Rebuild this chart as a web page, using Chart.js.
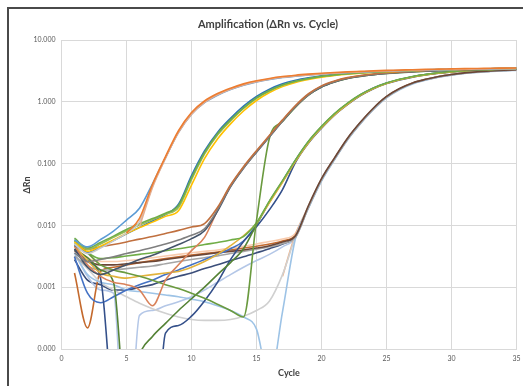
<!DOCTYPE html>
<html>
<head>
<meta charset="utf-8">
<script src="https://cdn.jsdelivr.net/npm/chart.js@4/dist/chart.umd.min.js"></script>
<style>
  html, body { margin: 0; padding: 0; background: #fff; }
  canvas { display: block; }
</style>
</head>
<body>
<canvas id="amp" width="523" height="386"></canvas>
<script>
// Amplification plot: delta Rn per PCR cycle, one line per well.
const cycles = [1,2,3,4,5,6,7,8,9,10,11,12,13,14,15,16,17,18,19,20,21,22,23,24,25,26,27,28,29,30,31,32,33,34,35];

const yTickValues = [0.0001, 0.001, 0.01, 0.1, 1, 10];
const yTickLabels = ['0.000', '0.001', '0.010', '0.100', '1.000', '10.000'];
const xTickValues = [0, 5, 10, 15, 20, 25, 30, 35];

// Wells, earliest rising first
const wellA1 = [null,null,null,null,0.0075,0.013,0.046,0.13,0.34,0.67,1.03,1.36,1.66,1.95,2.19,2.39,2.56,2.69,2.8,2.9,2.98,3.05,3.11,3.17,3.22,3.26,3.31,3.35,3.38,3.41,3.44,3.46,3.49,3.51,3.53];
const wellA2 = [null,null,null,null,null,0.0095,0.041,0.122,0.32,0.63,0.98,1.3,1.6,1.88,2.12,2.32,2.49,2.61,2.73,2.83,2.91,2.98,3.04,3.1,3.15,3.19,3.24,3.28,3.31,3.34,3.37,3.39,3.42,3.44,3.46];
const wellA3 = [0.0058,0.0045,0.0059,0.0081,0.0122,0.019,0.047,0.125,0.32,0.63,0.97,1.28,1.58,1.86,2.1,2.3,2.47,2.6,2.72,2.82,2.9,2.97,3.03,3.09,3.14,3.18,3.23,3.27,3.3,3.33,3.36,3.38,3.41,3.43,3.45];
const wellA4 = [0.005,0.0035,0.0043,0.0056,0.0075,0.0115,0.043,0.124,0.33,0.65,1.0,1.32,1.62,1.9,2.14,2.34,2.51,2.63,2.75,2.85,2.93,3.0,3.06,3.12,3.17,3.21,3.26,3.3,3.33,3.36,3.39,3.41,3.44,3.46,3.48];

const wellB1 = [0.0062,0.0043,0.0053,0.0067,0.0086,0.0106,0.0129,0.0157,0.021,0.059,0.15,0.305,0.51,0.8,1.16,1.52,1.87,2.15,2.38,2.58,2.73,2.86,2.96,3.04,3.11,3.17,3.22,3.27,3.31,3.34,3.38,3.41,3.43,3.45,3.48];
const wellB2 = [0.0059,0.0041,0.005,0.0064,0.0081,0.0101,0.0124,0.0151,0.0195,0.055,0.142,0.29,0.49,0.78,1.14,1.5,1.85,2.13,2.36,2.56,2.71,2.84,2.94,3.02,3.09,3.15,3.2,3.25,3.29,3.32,3.36,3.39,3.41,3.43,3.46];
const wellB3 = [0.0054,0.0038,0.0046,0.0058,0.0074,0.0092,0.0113,0.014,0.0172,0.045,0.12,0.25,0.44,0.71,1.05,1.41,1.76,2.05,2.29,2.5,2.66,2.8,2.91,3.0,3.07,3.13,3.19,3.24,3.28,3.31,3.35,3.38,3.4,3.42,3.45];
const wellB4 = [0.0048,0.0036,0.0045,0.0057,0.0073,0.0093,0.0118,0.015,0.022,0.064,0.16,0.32,0.54,0.85,1.22,1.6,1.95,2.23,2.45,2.64,2.78,2.9,2.99,3.06,3.13,3.18,3.23,3.28,3.32,3.35,3.38,3.41,3.43,3.45,3.48];

const wellC1 = [0.0047,0.0041,0.0045,0.0049,0.0054,0.006,0.0066,0.0074,0.0083,0.0094,0.0107,0.0195,0.045,0.089,0.162,0.287,0.51,0.87,1.35,1.81,2.17,2.46,2.66,2.82,2.95,3.05,3.13,3.21,3.27,3.32,3.36,3.4,3.43,3.47,3.5];
const wellC2 = [0.0036,0.0026,0.0028,0.0031,0.0035,0.0039,0.0044,0.005,0.0058,0.0069,0.0088,0.018,0.043,0.085,0.155,0.275,0.49,0.84,1.3,1.76,2.12,2.41,2.61,2.77,2.9,3.0,3.08,3.16,3.22,3.27,3.31,3.35,3.38,3.42,3.45];
const wellC3 = [0.0042,0.0021,0.0016,0.0019,0.0023,0.0028,0.0033,0.004,0.0049,0.0061,0.0082,0.017,0.042,0.084,0.153,0.272,0.485,0.83,1.29,1.74,2.1,2.39,2.59,2.75,2.88,2.98,3.06,3.14,3.2,3.25,3.29,3.33,3.36,3.4,3.43];
const wellC4 = [0.0046,0.0023,0.0015,0.0012,0.0011,0.0009,0.0005,0.0013,0.0023,0.0039,0.0064,0.0175,0.0435,0.087,0.158,0.28,0.5,0.85,1.32,1.78,2.14,2.43,2.63,2.79,2.92,3.02,3.1,3.18,3.24,3.29,3.33,3.37,3.4,3.44,3.47];
const wellC5 = [0.0056,0.0036,0.0023,0.0019,0.0017,0.0015,0.0013,0.0011,0.00095,0.0008,0.00066,0.00053,0.00042,0.00033,0.012,0.26,0.48,0.82,1.28,1.73,2.09,2.38,2.58,2.74,2.87,2.97,3.05,3.13,3.19,3.24,3.28,3.32,3.35,3.39,3.42];

const wellD1 = [0.0051,0.0036,0.0029,0.003,0.0032,0.0034,0.0036,0.0039,0.0042,0.0045,0.0049,0.0053,0.0058,0.0066,0.011,0.025,0.053,0.115,0.23,0.4,0.645,0.95,1.31,1.68,2.02,2.31,2.56,2.77,2.95,3.09,3.2,3.29,3.35,3.41,3.46];
const wellD2 = [0.0047,0.0027,0.0017,0.0015,0.0014,0.0015,0.0016,0.0017,0.0018,0.0021,0.0026,0.0034,0.0047,0.0068,0.0108,0.0235,0.05,0.109,0.218,0.38,0.615,0.91,1.27,1.64,1.98,2.27,2.52,2.73,2.91,3.05,3.16,3.25,3.31,3.37,3.42];
const wellD3 = [0.0041,0.003,0.0019,0.0012,0.00001,0.00008,0.00016,0.00026,0.00042,0.00065,0.001,0.0016,0.0025,0.0042,0.0103,0.024,0.051,0.112,0.224,0.39,0.63,0.93,1.29,1.66,2.0,2.29,2.54,2.75,2.93,3.07,3.18,3.27,3.33,3.39,3.44];
const wellD4 = [0.0041,0.0026,0.0014,0.000007,0.000001,0.000001,0.000001,0.00018,0.00024,0.00034,0.0006,0.0012,0.0028,0.0055,0.0095,0.018,0.038,0.105,0.215,0.375,0.61,0.9,1.26,1.63,1.97,2.26,2.51,2.72,2.9,3.04,3.15,3.24,3.3,3.36,3.41];
const wellD5 = [0.0031,0.0008,0.00056,0.0007,0.0009,0.0011,0.0013,0.0016,0.0019,0.0023,0.0028,0.0034,0.0042,0.0056,0.0104,0.0245,0.052,0.114,0.228,0.395,0.635,0.935,1.3,1.67,2.01,2.3,2.55,2.76,2.94,3.08,3.19,3.28,3.34,3.4,3.45];

const wellE1 = [0.0039,0.0027,0.0023,0.0023,0.0024,0.0025,0.0026,0.0028,0.003,0.0032,0.0034,0.0036,0.0038,0.004,0.0043,0.0047,0.0054,0.0068,0.021,0.057,0.124,0.258,0.47,0.795,1.22,1.64,2.02,2.31,2.56,2.77,2.94,3.06,3.16,3.24,3.3];
const wellE2 = [0.0032,0.0022,0.0019,0.0019,0.002,0.0021,0.0022,0.0024,0.0026,0.0028,0.003,0.0032,0.0035,0.0038,0.0041,0.0045,0.0051,0.0064,0.0195,0.054,0.118,0.246,0.45,0.765,1.18,1.6,1.98,2.27,2.52,2.73,2.9,3.02,3.12,3.2,3.26];
const wellE3 = [0.0036,0.0016,0.0012,0.0011,0.0009,0.00085,0.0008,0.00075,0.0007,0.00064,0.00058,0.0005,0.00042,0.00033,0.00021,0.00003,0.0004,0.0062,0.019,0.052,0.115,0.24,0.44,0.75,1.16,1.57,1.95,2.24,2.49,2.7,2.87,2.99,3.09,3.17,3.23];
const wellE4 = [0.0031,0.002,0.0012,0.0009,0.0007,0.00055,0.00045,0.00038,0.00033,0.0003,0.00029,0.00029,0.0003,0.00034,0.00042,0.0006,0.0016,0.0066,0.0205,0.056,0.121,0.252,0.46,0.78,1.2,1.62,2.0,2.29,2.54,2.75,2.92,3.04,3.14,3.22,3.28];
const wellE5 = [null,null,null,null,null,null,null,null,null,null,null,null,null,null,null,null,0.0015,0.0072,0.0198,0.054,0.118,0.247,0.452,0.77,1.19,1.61,1.99,2.28,2.53,2.74,2.91,3.03,3.13,3.21,3.27];
const wellE6 = [0.0045,0.003,0.0026,0.0026,0.0027,0.0028,0.003,0.0032,0.0034,0.0036,0.0038,0.004,0.0043,0.0046,0.005,0.0055,0.006,0.0075,0.0208,0.056,0.122,0.254,0.462,0.782,1.21,1.63,2.01,2.3,2.55,2.76,2.93,3.05,3.15,3.23,3.29];
const wellE7 = [0.0017,0.00022,0.0018,0.0021,0.0023,0.0025,0.0027,0.0029,0.0031,0.0033,0.0035,0.0037,0.004,0.0043,0.0046,0.005,0.0056,0.007,0.0202,0.055,0.12,0.25,0.457,0.776,1.2,1.62,2.0,2.29,2.54,2.75,2.92,3.04,3.14,3.22,3.28];
const wellE8 = [0.0036,0.0015,0.0009,0.0008,0.0000008,0.00035,0.00042,0.0005,0.00058,0.0007,0.0009,0.0012,0.0016,0.0021,0.0027,0.0034,0.0045,0.0063,0.0198,0.054,0.118,0.247,0.452,0.77,1.19,1.61,1.99,2.28,2.53,2.74,2.91,3.03,3.13,3.21,3.27];
const wellE9 = [0.0028,0.0013,0.0011,0.0009,0.0009,0.001,0.0011,0.0013,0.0015,0.0017,0.002,0.0023,0.0027,0.0031,0.0036,0.0042,0.005,0.0066,0.02,0.055,0.12,0.25,0.457,0.776,1.2,1.62,2.0,2.29,2.54,2.75,2.92,3.04,3.14,3.22,3.28];

const wells = [
  { name: 'A1', values: wellA1, color: '#ED7D31' },
  { name: 'A2', values: wellA2, color: '#E3AE92' },
  { name: 'A3', values: wellA3, color: '#5B9BD5' },
  { name: 'A4', values: wellA4, color: '#C9C9C9' },
  { name: 'B1', values: wellB1, color: '#70AD47' },
  { name: 'B2', values: wellB2, color: '#9BBB59' },
  { name: 'B3', values: wellB3, color: '#FFC000' },
  { name: 'B4', values: wellB4, color: '#2E75B6' },
  { name: 'C1', values: wellC1, color: '#C0703F' },
  { name: 'C2', values: wellC2, color: '#7F7F7F' },
  { name: 'C3', values: wellC3, color: '#44546A' },
  { name: 'C4', values: wellC4, color: '#D9825A' },
  { name: 'C5', values: wellC5, color: '#6A9A3F' },
  { name: 'D1', values: wellD1, color: '#70AD47' },
  { name: 'D2', values: wellD2, color: '#E2B33C' },
  { name: 'D3', values: wellD3, color: '#548235' },
  { name: 'D4', values: wellD4, color: '#34508A' },
  { name: 'D5', values: wellD5, color: '#4472C4' },
  { name: 'E1', values: wellE1, color: '#6B4636' },
  { name: 'E2', values: wellE2, color: '#A5A5A5' },
  { name: 'E3', values: wellE3, color: '#9DC3E6' },
  { name: 'E4', values: wellE4, color: '#D0D0D0' },
  { name: 'E5', values: wellE5, color: '#F4B183' },
  { name: 'E6', values: wellE6, color: '#F8CBAD' },
  { name: 'E7', values: wellE7, color: '#C46A2E' },
  { name: 'E8', values: wellE8, color: '#B4C7E7' },
  { name: 'E9', values: wellE9, color: '#3B4E7A' }
];

const FONT = 'Lato, "Open Sans", "DejaVu Sans", sans-serif';
const GRID = '#D9D9D9';

// Outer chart frame and the rotated value-axis caption
const framePlugin = {
  id: 'frame',
  beforeDraw(chart) {
    const ctx = chart.ctx;
    ctx.save();
    ctx.fillStyle = '#ffffff';
    ctx.fillRect(0, 0, chart.width, chart.height);
    ctx.strokeStyle = '#4A4A4A';
    ctx.lineWidth = 2;
    ctx.beginPath();
    ctx.moveTo(8, chart.height + 5);
    ctx.lineTo(8, 8);
    ctx.lineTo(chart.width + 5, 8);
    ctx.stroke();
    ctx.restore();
  },
  afterDraw(chart) {
    const ctx = chart.ctx;
    ctx.save();
    ctx.translate(27, 185);
    ctx.rotate(-Math.PI / 2);
    ctx.font = 'bold 9px ' + FONT;
    ctx.fillStyle = '#404040';
    ctx.textAlign = 'center';
    ctx.textBaseline = 'middle';
    ctx.fillText('\u0394Rn', 0, 0);
    ctx.restore();
  }
};

new Chart(document.getElementById('amp'), {
  type: 'line',
  data: {
    datasets: wells.map(w => ({
      label: w.name,
      data: cycles.map((c, i) => ({ x: c, y: w.values[i] })),
      borderColor: w.color,
      backgroundColor: w.color,
      borderWidth: 1.6,
      pointRadius: 0,
      cubicInterpolationMode: 'monotone',
      spanGaps: false,
      fill: false
    }))
  },
  options: {
    responsive: false,
    devicePixelRatio: 1,
    animation: false,
    events: [],
    layout: { padding: { left: 19.5, right: 6.5, top: 0, bottom: 0 } },
    plugins: {
      legend: { display: false },
      tooltip: { enabled: false },
      title: {
        display: true,
        text: 'Amplification (\u0394Rn vs. Cycle)',
        color: '#404040',
        font: { family: FONT, size: 11, weight: 'bold' },
        padding: { top: 17.4, bottom: 9.4 }
      }
    },
    scales: {
      x: {
        type: 'linear',
        min: 0,
        max: 35,
        afterBuildTicks: s => { s.ticks = xTickValues.map(v => ({ value: v })); },
        afterFit: s => { s.height = 37; s.paddingLeft = 0; s.paddingRight = 0; },
        grid: { color: GRID, lineWidth: 1, drawTicks: false },
        border: { color: GRID },
        ticks: { color: '#595959', padding: 6, font: { family: FONT, size: 7 }, maxRotation: 0 },
        title: {
          display: true,
          text: 'Cycle',
          color: '#404040',
          font: { family: FONT, size: 9, weight: 'bold' },
          padding: { top: 0, bottom: 8 }
        }
      },
      y: {
        type: 'logarithmic',
        min: 0.0001,
        max: 10,
        afterBuildTicks: s => { s.ticks = yTickValues.map(v => ({ value: v })); },
        afterFit: s => { s.width = 42; s.paddingTop = 0; s.paddingBottom = 0; },
        grid: { color: GRID, lineWidth: 1, drawTicks: false },
        border: { color: GRID },
        ticks: {
          color: '#595959',
          padding: 6,
          font: { family: FONT, size: 7 },
          callback: (v, i) => yTickLabels[i]
        }
      }
    }
  },
  plugins: [framePlugin]
});
</script>
</body>
</html>
